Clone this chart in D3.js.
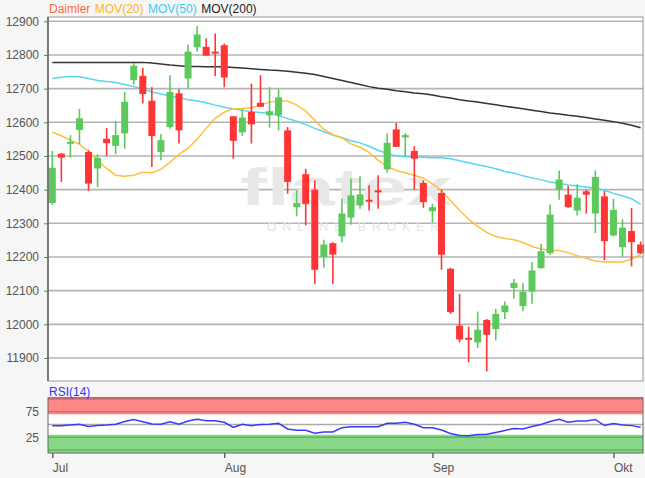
<!DOCTYPE html>
<html><head><meta charset="utf-8">
<script src="https://cdn.jsdelivr.net/npm/d3@7"></script>
<style>
body{margin:0;background:#f6f6f6;}
svg{display:block;font-family:"Liberation Sans",Arial,sans-serif;}
</style>
</head><body>
<svg id="chart" width="645" height="478"></svg>
<script>
// ---------- DATA ----------
const dates = [
 "2018-07-05","2018-07-06","2018-07-09","2018-07-10","2018-07-11","2018-07-12","2018-07-13","2018-07-16","2018-07-17","2018-07-18",
 "2018-07-19","2018-07-20","2018-07-23","2018-07-24","2018-07-25","2018-07-26","2018-07-27","2018-07-30","2018-07-31",
 "2018-08-01","2018-08-02","2018-08-03","2018-08-06","2018-08-07","2018-08-08","2018-08-09","2018-08-10","2018-08-13","2018-08-14",
 "2018-08-15","2018-08-16","2018-08-17","2018-08-20","2018-08-21","2018-08-22","2018-08-23","2018-08-24","2018-08-27","2018-08-28",
 "2018-08-29","2018-08-30","2018-08-31",
 "2018-09-03","2018-09-04","2018-09-05","2018-09-06","2018-09-07","2018-09-10","2018-09-11","2018-09-12","2018-09-13","2018-09-14",
 "2018-09-17","2018-09-18","2018-09-19","2018-09-20","2018-09-21","2018-09-24","2018-09-25","2018-09-26","2018-09-27","2018-09-28",
 "2018-10-01","2018-10-02","2018-10-03","2018-10-04"
];
const open  = [12360,12507,12537,12577,12512,12463,12551,12530,12567,12725,12738,12664,12512,12586,12686,12730,12823,12824,12810,12829,
               12618,12570,12631,12658,12621,12621,12576,12348,12446,12400,12200,12241,12261,12317,12353,12370,12398,12460,12579,12555,
               12515,12420,12336,12390,12165,11996,11960,11946,12013,11986,12036,12108,12054,12097,12167,12211,12400,12385,12338,12395,
               12329,12380,12264,12229,12277,12237];
const high  = [12515,12508,12562,12640,12517,12505,12583,12604,12690,12776,12762,12704,12565,12740,12698,12830,12886,12849,12864,12834,
               12618,12638,12715,12740,12704,12698,12586,12398,12462,12428,12251,12244,12373,12433,12440,12413,12443,12567,12598,12568,
               12529,12428,12358,12400,12168,12090,11993,12038,12016,12046,12068,12135,12123,12185,12239,12356,12457,12410,12416,12400,
               12457,12396,12373,12312,12346,12246];
const low   = [12355,12423,12495,12535,12396,12408,12500,12505,12522,12712,12656,12467,12487,12581,12537,12700,12810,12798,12737,12704,
               12492,12559,12537,12646,12584,12576,12388,12321,12294,12120,12168,12120,12244,12296,12343,12338,12343,12450,12527,12499,
               12400,12346,12301,12162,12031,11946,11887,11930,11860,11952,12016,12076,12039,12061,12165,12207,12370,12346,12323,12329,
               12271,12190,12261,12201,12172,12209];
const close = [12465,12495,12542,12612,12418,12494,12538,12562,12661,12768,12684,12559,12547,12690,12576,12810,12861,12798,12805,12733,
               12545,12614,12594,12646,12633,12674,12423,12360,12358,12162,12237,12207,12329,12383,12386,12364,12392,12539,12527,12562,
               12492,12363,12348,12207,12036,11955,11956,11984,11969,12031,12056,12123,12097,12160,12217,12326,12430,12348,12376,12385,
               12438,12247,12340,12287,12244,12211];
const mov20 = [12571,12560,12547,12535,12514,12487,12463,12443,12440,12443,12452,12450,12460,12481,12505,12523,12550,12582,12612,12630,
               12640,12641,12643,12651,12660,12664,12663,12651,12633,12606,12579,12563,12554,12536,12526,12511,12487,12469,12457,12450,
               12443,12434,12417,12398,12368,12338,12312,12291,12273,12261,12255,12251,12243,12231,12224,12219,12219,12213,12204,12196,
               12188,12185,12185,12185,12194,12207];
const mov50 = [12730,12734,12736,12735,12730,12724,12721,12718,12712,12706,12700,12690,12684,12679,12673,12667,12663,12658,12651,12645,
               12640,12636,12631,12629,12626,12620,12611,12603,12593,12582,12572,12562,12554,12545,12539,12529,12517,12507,12501,12498,
               12497,12496,12495,12495,12492,12486,12480,12474,12469,12462,12454,12449,12441,12435,12429,12423,12419,12414,12411,12408,
               12404,12398,12389,12382,12373,12356];
const mov200= [12778,12778,12778,12778,12778,12778,12778,12778,12778,12778,12778,12776,12773,12770,12768,12766,12766,12765,12765,12765,
               12763,12761,12759,12757,12755,12754,12752,12749,12746,12742,12736,12730,12724,12718,12712,12706,12701,12698,12694,12691,
               12687,12685,12681,12676,12672,12667,12663,12660,12656,12652,12648,12644,12640,12636,12632,12628,12625,12621,12618,12614,
               12610,12606,12602,12597,12591,12584];
const rsi14 = [47.7,47.7,49,50.6,46.1,48,49,50.6,55.9,59.8,55.3,51,50.4,55.3,50.4,56.8,60.2,57.4,57.4,54.3,
               44.5,50.4,47.7,50,50.4,52.3,41.2,38.7,38.7,32.8,35.4,35.4,43.8,45.5,45.7,45.7,45.7,52.3,52.3,54.3,
               50.4,43.8,43.8,39.3,32.4,28.5,28.1,30.5,30.9,34.4,38.3,42.2,41.2,46.1,50,55.9,60.2,54.3,56.8,56.8,
               59.8,48,52,49,47.8,44.5];
const priceTicks = [11900,12000,12100,12200,12300,12400,12500,12600,12700,12800,12900];
const rsiTicks = [25,75];
const monthNames = {"07":"Jul","08":"Aug","09":"Sep","10":"Okt"};
const legendItems = [
  {label:"Daimler",  color:"#ff6a3d"},
  {label:"MOV(20)",  color:"#ffb526"},
  {label:"MOV(50)",  color:"#3fcaf2"},
  {label:"MOV(200)", color:"#222222"}
];

// ---------- LAYOUT ----------
const L = 48, R = 643, T = 17, B = 381;
const RT = 397.7, RB = 453;
const svg = d3.select("#chart");
const n = dates.length;
const x = d3.scaleLinear().domain([0, n - 1]).range([52.3, 640.6]);
const y = d3.scaleLinear().domain([11900, 12900]).range([358, 21.3]);
const yr = d3.scaleLinear().domain([0, 100]).range([450.1, 398.9]);

// plot backgrounds
svg.append("rect").attr("x", L).attr("y", T).attr("width", R - L).attr("height", B - T).attr("fill", "#fff");
svg.append("rect").attr("x", L).attr("y", RT).attr("width", R - L).attr("height", RB - RT).attr("fill", "#fff");

// gridlines
svg.append("g").selectAll("line").data(priceTicks).join("line")
  .attr("x1", L).attr("x2", R).attr("y1", d => y(d)).attr("y2", d => y(d))
  .attr("stroke", "#b4b4b4").attr("stroke-width", 1.6);

// watermark
svg.append("text").attr("x", 240).attr("y", 205).text("flatex")
  .attr("font-size", 52).attr("font-weight", "bold").attr("fill", "#e8e8e8")
  .attr("textLength", 212).attr("lengthAdjust", "spacingAndGlyphs");
svg.append("text").attr("x", 267).attr("y", 231).text("ONLINE BROKER")
  .attr("font-size", 12).attr("fill", "#e4e4e4")
  .attr("textLength", 172).attr("lengthAdjust", "spacing");

// moving averages
const lineGen = arr => d3.line().x((d, i) => x(i)).y(d => y(d))(arr);
[[mov200, "#333333"], [mov50, "#55d6f3"], [mov20, "#ffbe3c"]].forEach(([arr, col]) => {
  svg.append("path").attr("d", lineGen(arr)).attr("fill", "none")
    .attr("stroke", col).attr("stroke-width", 1.5);
});

// candles
const green = "#5dc95d", red = "#ff3434";
const cg = svg.append("g");
d3.range(n).forEach(i => {
  const up = close[i] >= open[i];
  const col = up ? green : red;
  cg.append("line").attr("x1", x(i)).attr("x2", x(i))
    .attr("y1", y(high[i])).attr("y2", y(low[i]))
    .attr("stroke", col).attr("stroke-width", 1.6);
  const top = y(Math.max(open[i], close[i]));
  const h = Math.max(2, Math.abs(y(open[i]) - y(close[i])));
  cg.append("rect").attr("x", x(i) - 3.5).attr("y", top).attr("width", 7).attr("height", h)
    .attr("fill", col);
});

// frame of main plot
svg.append("rect").attr("x", L).attr("y", T).attr("width", R - L).attr("height", B - T)
  .attr("fill", "none").attr("stroke", "#9a9a9a").attr("stroke-width", 1);

// y axis
const yAxis = svg.append("g").attr("transform", `translate(${L},0)`)
  .call(d3.axisLeft(y).tickValues(priceTicks).tickFormat(d3.format("d")).tickSize(4).tickPadding(5));
yAxis.select(".domain").remove();
yAxis.selectAll("line").attr("stroke", "#777");
yAxis.selectAll("text").attr("font-size", 12).attr("fill", "#555").attr("font-family", "Liberation Sans, Arial, sans-serif");
svg.append("line").attr("x1", L).attr("x2", L).attr("y1", T).attr("y2", B)
  .attr("stroke", "#666").attr("stroke-width", 1.6);

// legend
let lx = 49;
legendItems.forEach(it => {
  const t = svg.append("text").attr("x", lx).attr("y", 13.3).text(it.label)
    .attr("font-size", 12).attr("fill", it.color);
  lx += t.node().getComputedTextLength() + 4.5;
});

// ---------- RSI PANEL ----------
svg.append("rect").attr("x", L).attr("y", RT).attr("width", R - L).attr("height", yr(70) - RT).attr("fill", "#ff8787");
svg.append("rect").attr("x", L).attr("y", yr(30)).attr("width", R - L).attr("height", RB - yr(30)).attr("fill", "#88d888");
[[100, "#d86a6a"], [75, "#d86a6a"], [50, "#aaaaaa"], [25, "#5fb35f"], [0, "#5fb35f"]].forEach(([v, c]) => {
  svg.append("line").attr("x1", L).attr("x2", R).attr("y1", yr(v)).attr("y2", yr(v))
    .attr("stroke", c).attr("stroke-width", 1.5);
});
svg.append("path").attr("d", d3.line().x((d, i) => x(i)).y(d => yr(d))(rsi14))
  .attr("fill", "none").attr("stroke", "#3a3aff").attr("stroke-width", 1.5);
svg.append("rect").attr("x", L).attr("y", RT).attr("width", R - L).attr("height", RB - RT)
  .attr("fill", "none").attr("stroke", "#666").attr("stroke-width", 1);
svg.append("text").attr("x", 49).attr("y", 395.5).text("RSI(14)").attr("font-size", 12).attr("fill", "#3535f0");

const rAxis = svg.append("g").attr("transform", `translate(${L},0)`)
  .call(d3.axisLeft(yr).tickValues(rsiTicks).tickSize(0).tickPadding(9));
rAxis.select(".domain").remove();
rAxis.selectAll("text").attr("font-size", 12).attr("fill", "#555").attr("font-family", "Liberation Sans, Arial, sans-serif");

// x axis (month starts)
const monthIdx = [];
dates.forEach((d, i) => { const m = d.slice(5, 7); if (i === 0 || dates[i - 1].slice(5, 7) !== m) monthIdx.push(i); });
const xAxis = svg.append("g").attr("transform", `translate(0,${RB})`)
  .call(d3.axisBottom(x).tickValues(monthIdx).tickFormat(i => monthNames[dates[i].slice(5, 7)]).tickSize(5).tickPadding(5));
xAxis.select(".domain").remove();
xAxis.selectAll("line").attr("stroke", "#666").attr("stroke-width", 1.5);
xAxis.selectAll("text").attr("text-anchor", "start").attr("font-size", 12).attr("fill", "#555")
  .attr("font-family", "Liberation Sans, Arial, sans-serif");
</script>
</body></html>
